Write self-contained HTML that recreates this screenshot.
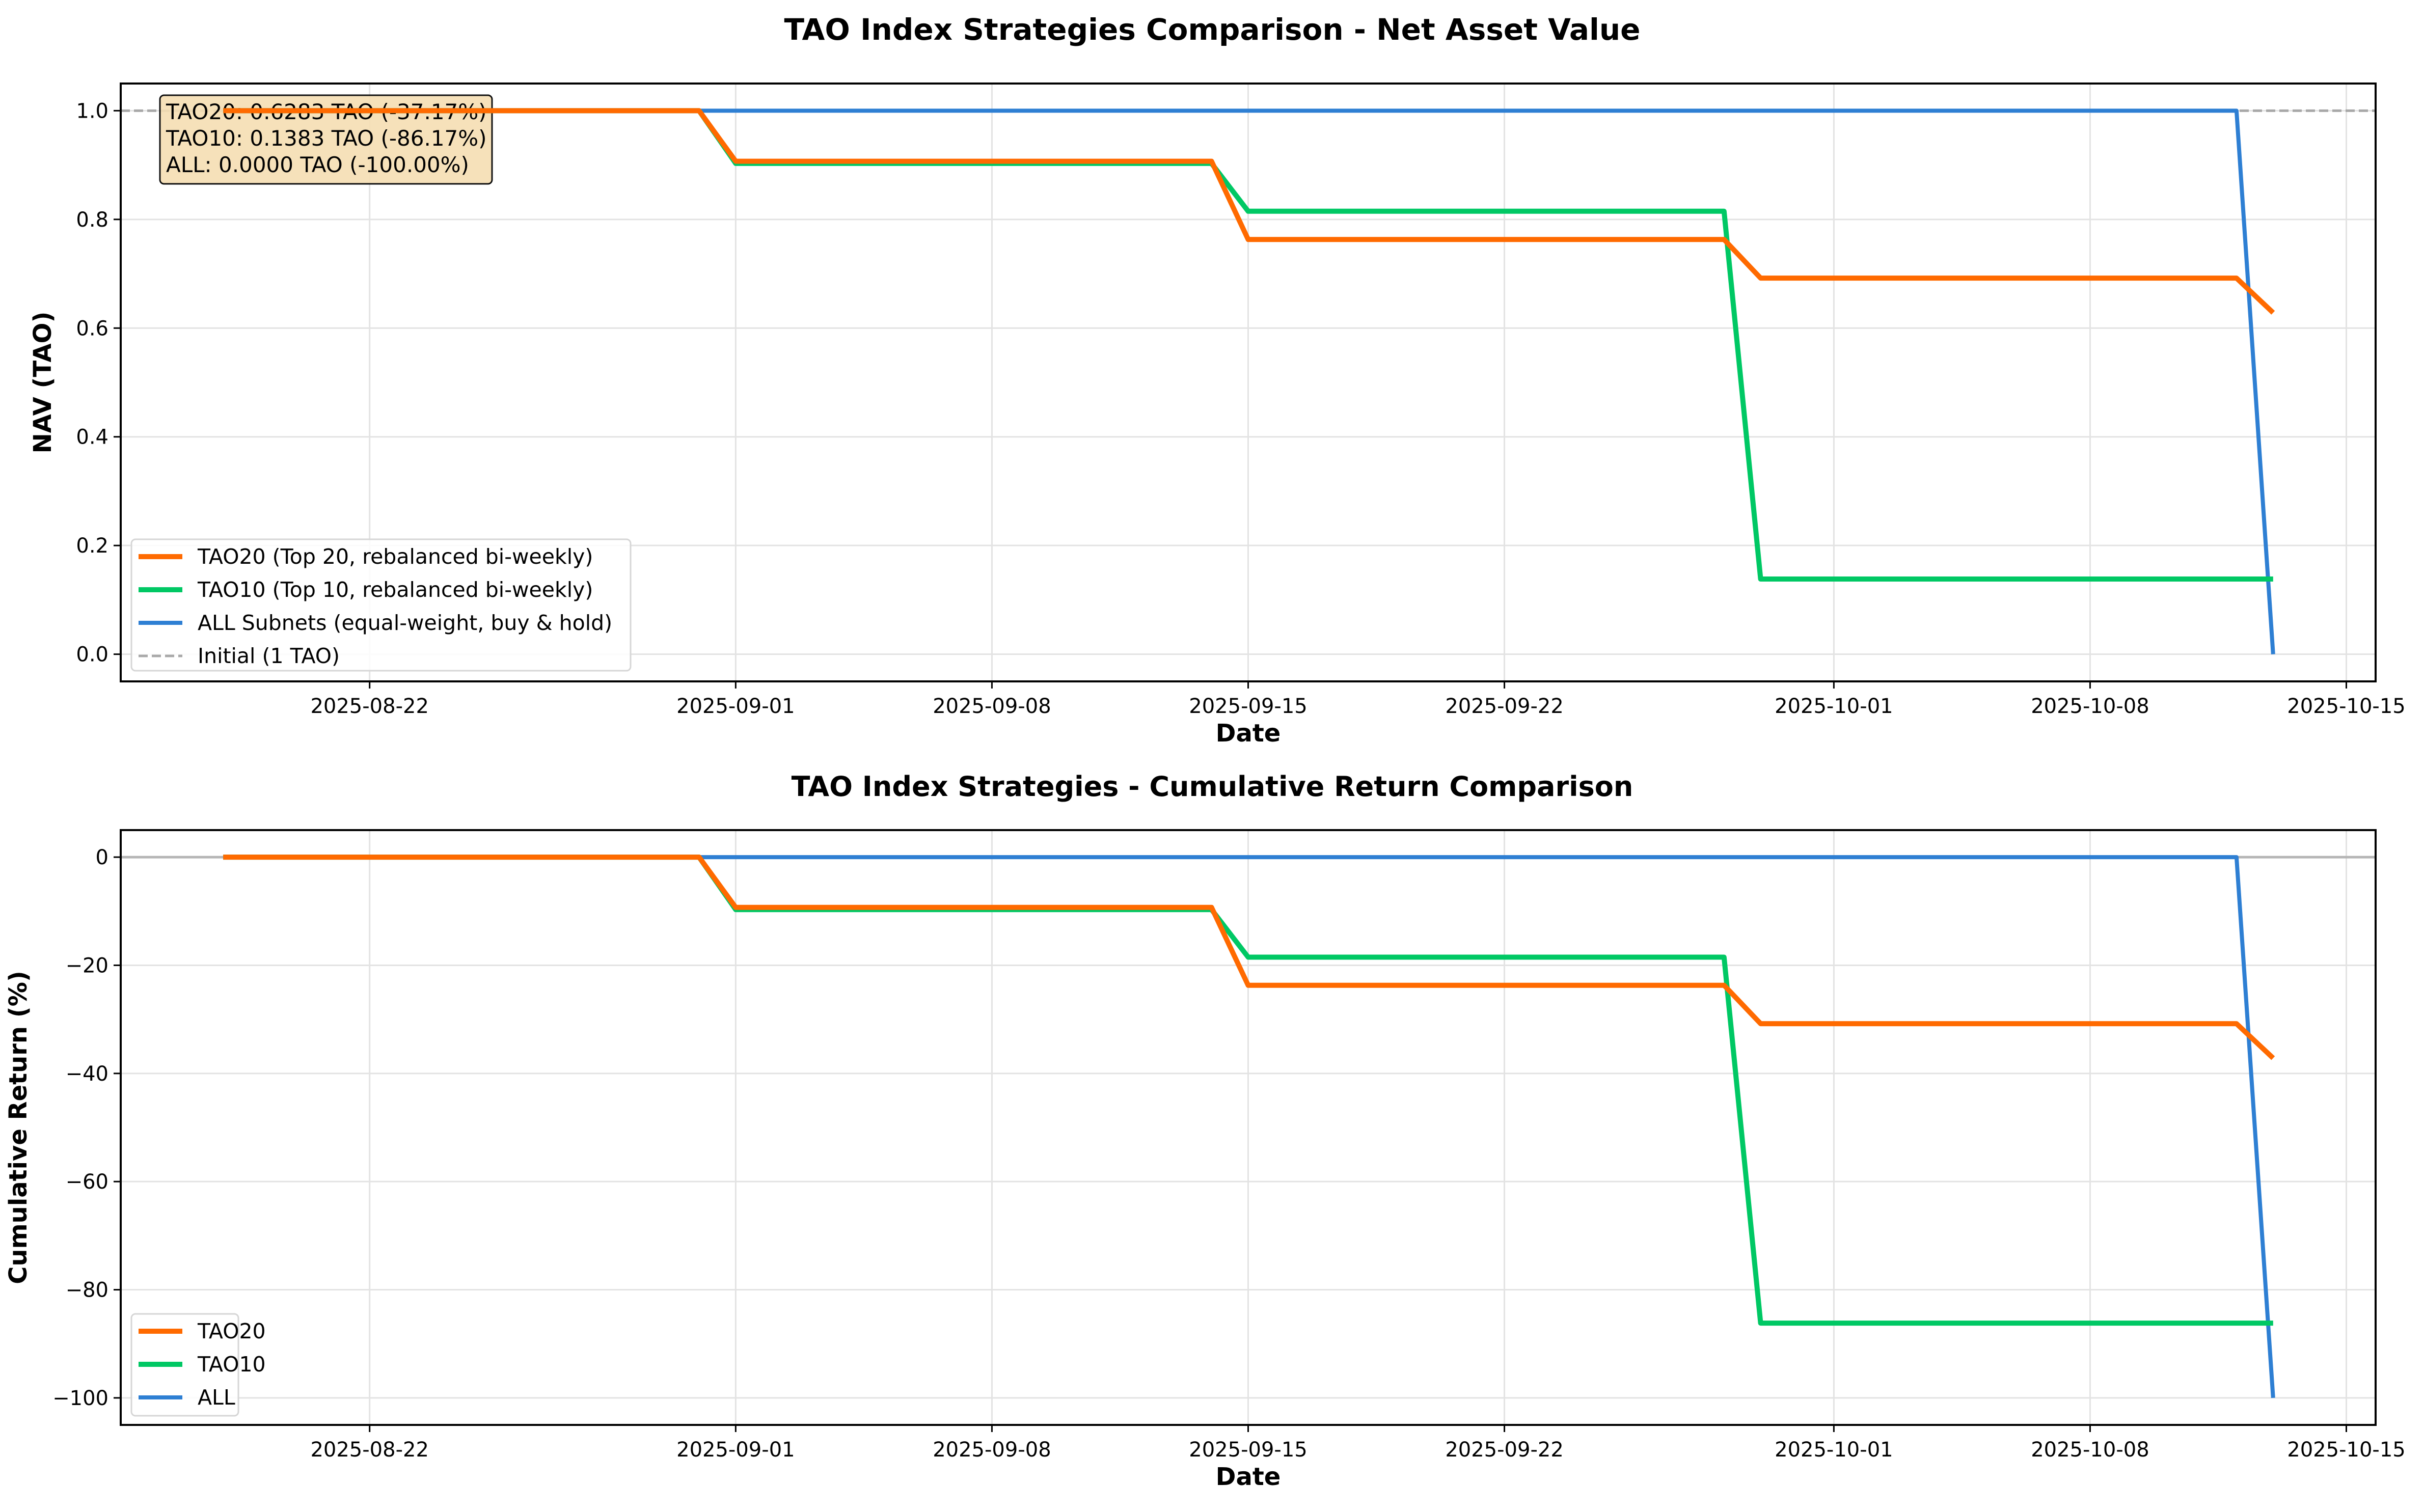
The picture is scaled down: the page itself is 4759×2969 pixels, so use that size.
<!DOCTYPE html>
<html><head><meta charset="utf-8"><style>
html,body{margin:0;padding:0;background:#fff;}
svg{display:block;font-family:"DejaVu Sans","Liberation Sans",sans-serif;}
</style></head><body>
<svg id="chart" width="4759" height="2969" viewBox="0 0 4759 2969" xmlns="http://www.w3.org/2000/svg"></svg>
<script>
// ---- data ----
const dates = ["2025-08-18","2025-08-31","2025-09-01","2025-09-14","2025-09-15","2025-09-28","2025-09-29","2025-10-12","2025-10-13"];
const tao20 = [1.0,1.0,0.907,0.907,0.763,0.763,0.692,0.692,0.6283];
const tao10 = [1.0,1.0,0.903,0.903,0.815,0.815,0.1383,0.1383,0.1383];
const allNav = [1.0,1.0,1.0,1.0,1.0,1.0,1.0,1.0,0.0];
const xTickLabels = ["2025-08-22","2025-09-01","2025-09-08","2025-09-15","2025-09-22","2025-10-01","2025-10-08","2025-10-15"];
const navTicks = [0.0,0.2,0.4,0.6,0.8,1.0];
const retTicks = [-100,-80,-60,-40,-20,0];
const boxLines = ["TAO20: 0.6283 TAO (-37.17%)","TAO10: 0.1383 TAO (-86.17%)","ALL: 0.0000 TAO (-100.00%)"];

const NS="http://www.w3.org/2000/svg";
const svg=document.getElementById('chart');
function el(tag,attrs,parent,text){const e=document.createElementNS(NS,tag);for(const k in attrs)e.setAttribute(k,attrs[k]);if(text!==undefined)e.textContent=text;(parent||svg).appendChild(e);return e;}
const DAY=86400000;
function dnum(s){return Date.parse(s+"T00:00:00Z")/DAY;}
const d0=dnum(dates[0]), d1=dnum(dates[dates.length-1]);
const span=d1-d0, xmin=d0-0.05*span, xmax=d1+0.05*span;
const L=237,R=4664;
function X(d){return L+(dnum(d)-xmin)/(xmax-xmin)*(R-L);}
const colors={tao20:"#ff6a00",tao10:"#00c864",all:"#2e7fd3"};

function axes(name,top,bot,ymin,ymax,ticks,fmt,ylabel,ylx){
  const g=el('g',{},svg);
  
  
  const Y=v=>bot-(v-ymin)/(ymax-ymin)*(bot-top);
  xTickLabels.forEach(t=>{const x=X(t);
    const gl=el('line',{x1:x,x2:x,y1:top,y2:bot,stroke:"#e3e3e3","stroke-width":3},g);
    
    el('line',{x1:x,x2:x,y1:bot,y2:bot+14,stroke:"#000","stroke-width":3},g);
    const tl=el('text',{x:x,y:bot+62,"font-size":40,"text-anchor":"middle"},g,t);
    
  });
  ticks.forEach(v=>{const y=Y(v);
    const gl=el('line',{x1:L,x2:R,y1:y,y2:y,stroke:"#e3e3e3","stroke-width":3},g);
    
    el('line',{x1:L-14,x2:L,y1:y,y2:y,stroke:"#000","stroke-width":3},g);
    const tl=el('text',{x:L-24,y:y+14,"font-size":40,"text-anchor":"end"},g,fmt(v));
    
  });
  const xl=el('text',{x:(L+R)/2,y:bot+118,"font-size":48,"font-weight":"bold","text-anchor":"middle"},g,"Date");
  
  const yl=el('text',{x:ylx,y:(top+bot)/2,"font-size":48,"font-weight":"bold","text-anchor":"middle",transform:`rotate(-90 ${ylx} ${(top+bot)/2})`},g,ylabel);
  
  return {g,Y};
}
function series(g,vals,Y,color,w,name){
  const pts=dates.map((d,i)=>X(d).toFixed(1)+","+Y(vals[i]).toFixed(1)).join(" ");
  const p=el('polyline',{points:pts,fill:"none",stroke:color,"stroke-width":w,"stroke-linejoin":"round"},g);
  
}
function legend(g,x,y,w,h,items){
  const lg=el('g',{},g);
  
  el('rect',{x:x,y:y,width:w,height:h,rx:8,fill:"#fff","fill-opacity":0.85,stroke:"#d6d6d6","stroke-width":3},lg);
  items.forEach((it,i)=>{const cy=y+34+i*65;
    const e=el('g',{},lg);
    
    el('line',{x1:x+14,x2:x+100,y1:cy,y2:cy,stroke:it.c,"stroke-width":it.w,"stroke-dasharray":it.dash||"none"},e);
    el('text',{x:x+130,y:cy+14,"font-size":41},e,it.t);
  });
}

// title 1
const t1=el('text',{x:2380,y:78,"font-size":58,"font-weight":"bold","text-anchor":"middle"},svg,"TAO Index Strategies Comparison - Net Asset Value");


// top axes
const T1=164,B1=1338;
const a1=axes('nav-axes',T1,B1,-0.05,1.05,navTicks,v=>v.toFixed(1),"NAV (TAO)",100);
el('line',{x1:L,x2:R,y1:a1.Y(1),y2:a1.Y(1),stroke:"#a8a8a8","stroke-width":5,"stroke-dasharray":"18,8"},a1.g);
// text box (behind lines)
const bx=el('g',{},a1.g);

el('rect',{x:314,y:187,width:652,height:174,rx:8,fill:"#f5deb3","fill-opacity":0.9,stroke:"#111","stroke-width":3},bx);
boxLines.forEach((s,i)=>el('text',{x:326,y:234+i*52,"font-size":42},bx,s));
series(a1.g,allNav,a1.Y,colors.all,8,'all-nav-line');
series(a1.g,tao10,a1.Y,colors.tao10,10,'tao10-nav-line');
series(a1.g,tao20,a1.Y,colors.tao20,10,'tao20-nav-line');
el('rect',{x:L,y:T1,width:R-L,height:B1-T1,fill:"none",stroke:"#000","stroke-width":4},a1.g);
legend(a1.g,258,1059,980,258,[
 {t:"TAO20 (Top 20, rebalanced bi-weekly)",c:colors.tao20,w:10},
 {t:"TAO10 (Top 10, rebalanced bi-weekly)",c:colors.tao10,w:10},
 {t:"ALL Subnets (equal-weight, buy & hold)",c:colors.all,w:8},
 {t:"Initial (1 TAO)",c:"#a8a8a8",w:5,dash:"18,8"}]);

// title 2
const t2=el('text',{x:2380,y:1563,"font-size":54,"font-weight":"bold","text-anchor":"middle"},svg,"TAO Index Strategies - Cumulative Return Comparison");


// bottom axes
const T2=1630,B2=2798;
const a2=axes('return-axes',T2,B2,-105,5,retTicks,v=>v===0?"0":"\u2212"+Math.abs(v),"Cumulative Return (%)",52);
el('line',{x1:L,x2:R,y1:a2.Y(0),y2:a2.Y(0),stroke:"#b5b5b5","stroke-width":5},a2.g);
const r=a=>a.map(v=>(v-1)*100);
series(a2.g,r(allNav),a2.Y,colors.all,8,'all-return-line');
series(a2.g,r(tao10),a2.Y,colors.tao10,10,'tao10-return-line');
series(a2.g,r(tao20),a2.Y,colors.tao20,10,'tao20-return-line');
el('rect',{x:L,y:T2,width:R-L,height:B2-T2,fill:"none",stroke:"#000","stroke-width":4},a2.g);
legend(a2.g,258,2580,210,200,[
 {t:"TAO20",c:colors.tao20,w:10},{t:"TAO10",c:colors.tao10,w:10},{t:"ALL",c:colors.all,w:8}]);
</script>
</body></html>
